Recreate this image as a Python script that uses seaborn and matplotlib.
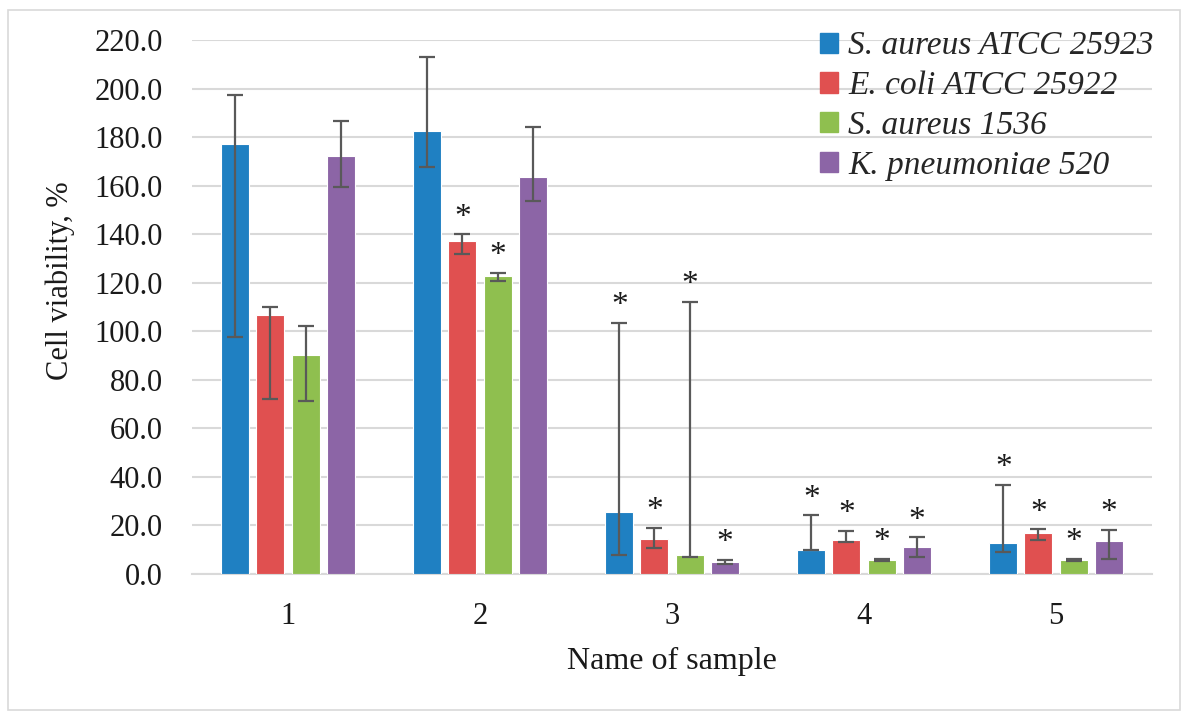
import seaborn as sns
import matplotlib.pyplot as plt
import matplotlib.patches as mpatches
import numpy as np
import pandas as pd

samples = ["1", "2", "3", "4", "5"]
strains = ["S. aureus ATCC 25923", "E. coli ATCC 25922", "S. aureus 1536", "K. pneumoniae 520"]
colors = ["#1F80C2", "#E05050", "#8FBF4F", "#8C65A6"]

# mean viability, per strain, per sample
viability = {
    "S. aureus ATCC 25923": [177.1, 182.6, 25.5, 10.0, 12.9],
    "E. coli ATCC 25922": [106.6, 137.2, 14.6, 14.1, 16.7],
    "S. aureus 1536": [90.3, 122.6, 7.9, 5.8, 5.8],
    "K. pneumoniae 520": [172.4, 163.4, 4.8, 11.2, 13.7],
}
# error bar ends (upper and lower), not symmetric
err_high = {
    "S. aureus ATCC 25923": [197.4, 213.0, 103.5, 24.2, 36.6],
    "E. coli ATCC 25922": [110.2, 139.9, 18.9, 17.9, 18.4],
    "S. aureus 1536": [102.2, 124.0, 112.0, 6.1, 6.1],
    "K. pneumoniae 520": [186.6, 184.1, 5.9, 15.1, 18.1],
}
err_low = {
    "S. aureus ATCC 25923": [97.8, 167.5, 8.0, 10.0, 9.1],
    "E. coli ATCC 25922": [72.2, 132.0, 10.6, 13.0, 13.9],
    "S. aureus 1536": [71.1, 120.7, 7.1, 5.5, 5.5],
    "K. pneumoniae 520": [159.5, 153.5, 4.1, 6.9, 6.3],
}
# significance marks (1 = asterisk)
signif = {
    "S. aureus ATCC 25923": [0, 0, 1, 1, 1],
    "E. coli ATCC 25922": [0, 1, 1, 1, 1],
    "S. aureus 1536": [0, 1, 1, 1, 1],
    "K. pneumoniae 520": [0, 0, 1, 1, 1],
}

rows = []
for s in strains:
    for i, smp in enumerate(samples):
        rows.append({"sample": smp, "strain": s, "value": viability[s][i],
                     "hi": err_high[s][i], "lo": err_low[s][i], "star": signif[s][i]})
df = pd.DataFrame(rows)

sns.set_style("white")
plt.rcParams["font.family"] = ["Liberation Serif", "DejaVu Serif"]

fig = plt.figure(figsize=(11.89, 7.18), dpi=100)
ax = fig.add_axes([192 / 1189, 1 - 574 / 718, 960 / 1189, 534 / 718])

sns.barplot(data=df, x="sample", y="value", hue="strain", hue_order=strains,
            palette=colors, width=0.73, gap=0.2, errorbar=None, saturation=1,
            edgecolor="white", linewidth=0.8, ax=ax, legend=False, zorder=3)

for j, s in enumerate(strains):
    container = ax.containers[j]
    sub = df[df["strain"] == s].reset_index(drop=True)
    xs = [p.get_x() + p.get_width() / 2 for p in container.patches]
    yerr = np.array([sub["value"] - sub["lo"], sub["hi"] - sub["value"]])
    ax.errorbar(xs, sub["value"], yerr=yerr, fmt="none", ecolor="#595959",
                elinewidth=1.6, capsize=6, capthick=1.6, zorder=4)
    for x, hi, st in zip(xs, sub["hi"], sub["star"]):
        if st:
            ax.text(x, hi + 7, "*", ha="center", va="center", fontsize=24,
                    color="#1a1a1a", zorder=5)

ax.set_xlim(-0.5, 4.5)
ax.set_ylim(0, 220)
ax.set_yticks(np.arange(0, 221, 20))
ax.set_yticklabels([f"{v:.1f}" for v in np.arange(0, 221, 20)])
ax.yaxis.grid(True, color="#D9D9D9", linewidth=1.5, zorder=0)
ax.set_axisbelow(True)
for sp in ["top", "right", "left"]:
    ax.spines[sp].set_visible(False)
ax.spines["bottom"].set_color("#D9D9D9")
ax.spines["bottom"].set_linewidth(1.5)
ax.tick_params(axis="both", length=0, labelsize=22, colors="#1a1a1a")
ax.tick_params(axis="y", pad=21)
ax.tick_params(axis="x", pad=20)
ax.set_xlabel("Name of sample", fontsize=23, color="#1a1a1a", labelpad=12)
ax.set_ylabel("Cell viability, %", fontsize=22, color="#1a1a1a")
ax.yaxis.set_label_coords(-0.122, 0.55)

handles = [mpatches.Patch(color=c, label=s) for s, c in zip(strains, colors)]
leg = fig.legend(handles=handles, loc="upper left", bbox_to_anchor=(790 / 1189, 1 - 1 / 718),
                 frameon=False, handlelength=0.55, handleheight=0.55, handletextpad=0.3,
                 labelspacing=0.28, prop={"size": 24, "style": "italic"})

fig.patches.append(mpatches.Rectangle((8 / 1189, 8 / 718), 1172 / 1189, 700 / 718,
                                      transform=fig.transFigure, fill=False,
                                      edgecolor="#D9D9D9", linewidth=1.2))

fig.savefig("out.png", dpi=100)
